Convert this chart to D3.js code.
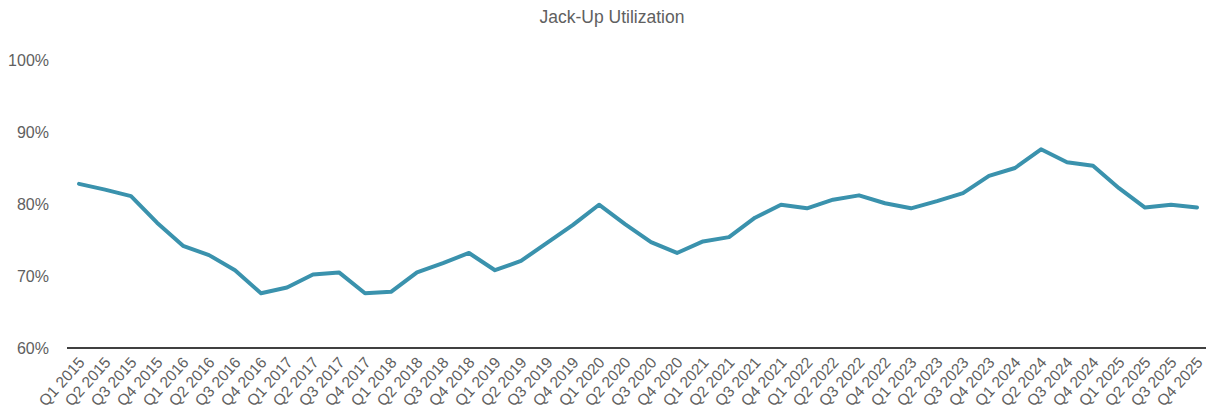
<!DOCTYPE html>
<html>
<head>
<meta charset="utf-8">
<script src="https://cdn.jsdelivr.net/npm/d3@7/dist/d3.min.js"></script>
<style>
  html, body { margin: 0; padding: 0; background: #fff; }
  svg { display: block; }
  text { font-family: "Liberation Sans", Arial, sans-serif; fill: #606060; }
</style>
</head>
<body>
<svg id="chart" width="1206" height="416"></svg>
<script>
// Quarterly jack-up rig utilization, Q1 2015 – Q4 2025
const years = [2015, 2016, 2017, 2018, 2019, 2020, 2021, 2022, 2023, 2024, 2025];
const quarters = ["Q1", "Q2", "Q3", "Q4"];
const categories = years.flatMap(y => quarters.map(q => `${q} ${y}`));

const utilization = [
  0.828, 0.820, 0.811, 0.774, 0.742, 0.729, 0.708, 0.676,
  0.684, 0.702, 0.705, 0.676, 0.678, 0.705, 0.718, 0.732,
  0.708, 0.721, 0.746, 0.771, 0.799, 0.772, 0.747, 0.732,
  0.748, 0.754, 0.781, 0.799, 0.794, 0.806, 0.812, 0.801,
  0.794, 0.804, 0.815, 0.839, 0.850, 0.876, 0.858, 0.853,
  0.822, 0.795, 0.799, 0.795
];

const yTicks = [0.6, 0.7, 0.8, 0.9, 1.0];
const title = "Jack-Up Utilization";

const svg = d3.select("#chart");

const x = d3.scalePoint()
  .domain(categories)
  .range([79, 1197]);

const y = d3.scaleLinear()
  .domain([0.6, 1.0])
  .range([348, 60]);

// Title
svg.append("text")
  .attr("x", 612)
  .attr("y", 23)
  .attr("text-anchor", "middle")
  .style("font-size", "17.5px")
  .text(title);

// Y axis labels (no axis line, no gridlines)
const yAxis = d3.axisLeft(y)
  .tickValues(yTicks)
  .tickFormat(d3.format(".0%"))
  .tickSize(0)
  .tickPadding(0);

const yG = svg.append("g")
  .attr("transform", "translate(49,0)")
  .call(yAxis);
yG.select(".domain").remove();
yG.selectAll("text")
  .style("font-size", "16px")
  .style("font-family", "'Liberation Sans', Arial, sans-serif")
  .attr("fill", "#606060");

// X axis: baseline with rotated quarter labels
const xAxis = d3.axisBottom(x)
  .tickSize(0)
  .tickPadding(0);

const xG = svg.append("g")
  .attr("transform", `translate(0,${y(0.6)})`)
  .call(xAxis);
xG.select(".domain").remove();
xG.append("line")
  .attr("x1", 67)
  .attr("x2", 1206)
  .attr("y1", 0)
  .attr("y2", 0)
  .attr("stroke", "#404040")
  .attr("stroke-width", 2);
xG.selectAll(".tick text")
  .attr("text-anchor", "end")
  .attr("dy", "0")
  .attr("transform", "translate(6,15) rotate(-48)")
  .style("font-size", "15.5px")
  .style("font-family", "'Liberation Sans', Arial, sans-serif")
  .attr("fill", "#606060");

// Utilization line
const line = d3.line()
  .x((d, i) => x(categories[i]))
  .y(d => y(d));

svg.append("path")
  .datum(utilization)
  .attr("fill", "none")
  .attr("stroke", "#3a92ad")
  .attr("stroke-width", 4)
  .attr("stroke-linejoin", "round")
  .attr("stroke-linecap", "round")
  .attr("d", line);
</script>
</body>
</html>
